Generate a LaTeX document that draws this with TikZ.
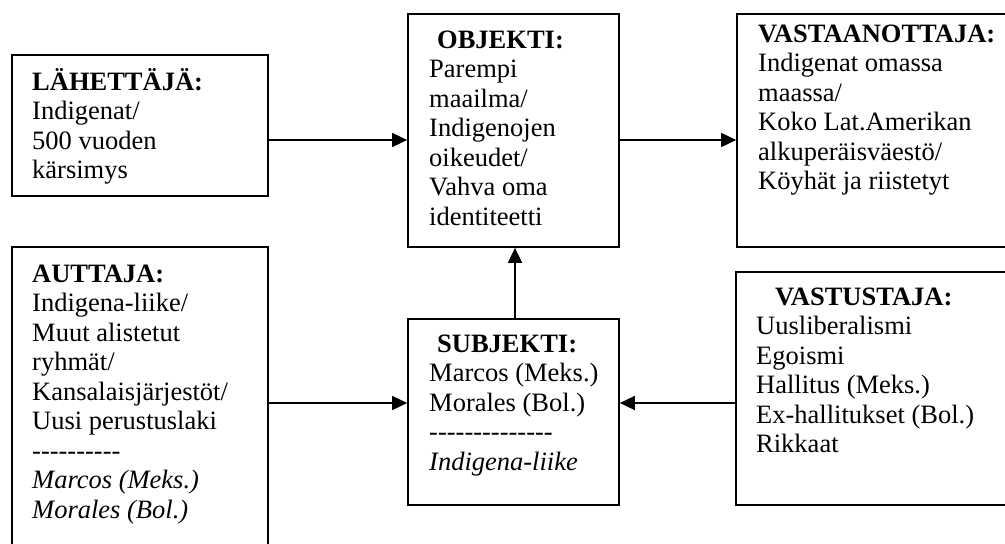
\documentclass[tikz,border=0pt]{standalone}
\usepackage{fontspec}
\setmainfont{Liberation Serif}[Ligatures=TeXOff]
\usetikzlibrary{arrows.meta}
\tikzset{
  box/.style={draw, line width=1.7pt, rectangle, inner sep=0pt},
  txt/.style={anchor=base west, inner sep=0pt, font=\fontsize{26.5}{29.5}\selectfont},
  link/.style={line width=1.7pt, -{Triangle[length=15pt,width=14pt]}},
}
% one text block, its baseline on the first line
\newcommand\lines[1]{\begin{tabular}[t]{@{}l@{}}#1\end{tabular}}

\begin{document}
\begin{tikzpicture}[x=1pt, y=-1pt]
  \clip (0,0) rectangle (1005,544);
  \fill[white] (0,0) rectangle (1005,544);

  % frames
  \node[box, minimum width=256pt, minimum height=141pt] (send) at (140,125.5) {};
  \node[box, minimum width=211pt, minimum height=233pt] (obj)  at (513.5,130.5) {};
  \node[box, minimum width=283pt, minimum height=233pt] (recv) at (878.5,130.5) {};
  \node[box, minimum width=256pt, minimum height=313pt] (help) at (140,403.5) {};
  \node[box, minimum width=211pt, minimum height=186pt] (subj) at (513.5,412) {};
  \node[box, minimum width=284pt, minimum height=233pt] (opp)  at (878,388.5) {};

  % texts
  \node[txt] (sendT) at (32,90) {\lines{\textbf{LÄHETTÄJÄ:}\\ Indigenat/\\ 500 vuoden\\ kärsimys}};
  \node[txt] (objT) at (429,48) {\lines{\hspace{8pt}\textbf{OBJEKTI:}\\ Parempi\\ maailma/\\ Indigenojen\\ oikeudet/\\ Vahva oma\\ identiteetti}};
  \node[txt] (recvT) at (758,42) {\lines{\textbf{VASTAANOTTAJA:}\\ Indigenat omassa\\ maassa/\\ Koko Lat.Amerikan\\ alkuperäisväestö/\\ Köyhät ja riistetyt}};
  \node[txt] (helpT) at (32,282) {\lines{\textbf{AUTTAJA:}\\ Indigena-liike/\\ Muut alistetut\\ ryhmät/\\ Kansalaisjärjestöt/\\ Uusi perustuslaki\\ ----------\\ \textit{Marcos (Meks.)}\\ \textit{Morales (Bol.)}}};
  \node[txt] (subjT) at (429,352) {\lines{\hspace{8pt}\textbf{SUBJEKTI:}\\ Marcos (Meks.)\\ Morales (Bol.)\\ --------------\\ \textit{Indigena-liike}}};
  \node[txt] (oppT) at (756,305) {\lines{\hspace{19pt}\textbf{VASTUSTAJA:}\\ Uusliberalismi\\ Egoismi\\ Hallitus (Meks.)\\ Ex-hallitukset (Bol.)\\ Rikkaat}};

  % connector rows and column
  \coordinate (upper) at (0,140);
  \coordinate (lower) at (0,403);
  \coordinate (mid) at (515,0);

  \draw[link] (send.east |- upper) -- (obj.west |- upper);
  \draw[link] (obj.east |- upper) -- (recv.west |- upper);
  \draw[link] (help.east |- lower) -- (subj.west |- lower);
  \draw[link] (opp.west |- lower) -- (subj.east |- lower);
  \draw[link] (subj.north -| mid) -- (obj.south -| mid);
\end{tikzpicture}
\end{document}
